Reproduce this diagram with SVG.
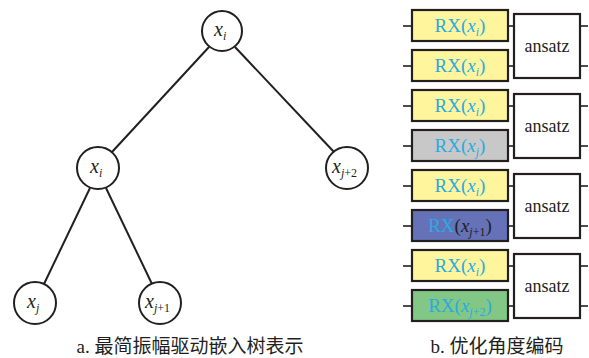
<svg xmlns="http://www.w3.org/2000/svg" width="589" height="358" viewBox="0 0 589 358">
  <style>
    .edge { stroke: #231f20; stroke-width: 2; fill: none; }
    .node { fill: #fff; stroke: #231f20; stroke-width: 2; }
    .var { font-family: "Liberation Serif", "DejaVu Serif", serif; font-style: italic; font-size: 20px; fill: #231f20; }
    .sub { font-size: 12px; }
    .up { font-style: normal; }
    .gate { stroke: #231f20; stroke-width: 2.2; }
    .wire { stroke: #231f20; stroke-width: 1.6; }
    .rx { font-family: "Liberation Serif", "DejaVu Serif", serif; font-size: 19px; fill: #29abe2; }
    .ans { font-family: "Liberation Serif", "DejaVu Serif", serif; font-size: 18px; fill: #231f20; }
    .cap { font-family: "Liberation Serif", "Noto Sans CJK SC", serif; font-size: 19px; fill: #231f20; }
    .yellow { fill: #fff59d; }
    .gray { fill: #c8c8c8; }
    .blue { fill: #6572b8; }
    .green { fill: #82c785; }
  </style>

  <!-- tree edges -->
  <g id="connectors">
    <line class="edge" x1="209" y1="47" x2="112" y2="152"/>
    <line class="edge" x1="235" y1="47" x2="334" y2="152"/>
    <line class="edge" x1="90" y1="188" x2="44" y2="284"/>
    <line class="edge" x1="106" y1="188" x2="152" y2="284"/>
  </g>

  <!-- tree nodes -->
  <g id="root">
    <circle class="node" cx="222" cy="31" r="20"/>
    <text class="var" x="214" y="36">x<tspan class="sub" dy="4">i</tspan></text>
  </g>
  <g id="left">
    <circle class="node" cx="98" cy="168" r="21"/>
    <text class="var" x="90" y="173">x<tspan class="sub" dy="4">i</tspan></text>
  </g>
  <g id="right">
    <circle class="node" cx="347" cy="168" r="21"/>
    <text class="var" x="332" y="173">x<tspan class="sub" dy="4">j<tspan class="up">+2</tspan></tspan></text>
  </g>
  <g id="leaf-j">
    <circle class="node" cx="35" cy="303" r="21"/>
    <text class="var" x="27" y="308">x<tspan class="sub" dy="4">j</tspan></text>
  </g>
  <g id="leaf-j1">
    <circle class="node" cx="160" cy="303" r="21"/>
    <text class="var" x="145" y="308">x<tspan class="sub" dy="4">j<tspan class="up">+1</tspan></tspan></text>
  </g>

  <!-- circuit blocks: shared wires, ansatz box and upper RX gate -->
  <defs>
    <g id="wires">
      <line class="wire" x1="403" y1="26" x2="412" y2="26"/>
      <line class="wire" x1="403" y1="66" x2="412" y2="66"/>
      <line class="wire" x1="508" y1="26" x2="514" y2="26"/>
      <line class="wire" x1="508" y1="66" x2="514" y2="66"/>
      <line class="wire" x1="580" y1="26" x2="588" y2="26"/>
      <line class="wire" x1="580" y1="66" x2="588" y2="66"/>
      <rect class="gate" x="514" y="14" width="66" height="64" fill="#fff"/>
      <text class="ans" x="547" y="52" text-anchor="middle">ansatz</text>
      <rect class="gate yellow" x="412" y="10" width="96" height="31"/>
      <text class="rx" x="460" y="32" text-anchor="middle">RX(<tspan font-style="italic">x</tspan><tspan font-style="italic" font-size="12" dy="4">i</tspan><tspan dy="-4">)</tspan></text>
    </g>
  </defs>

  <g id="block-1">
    <use href="#wires"/>
    <rect class="gate yellow" x="412" y="50" width="96" height="31"/>
    <text class="rx" x="460" y="72" text-anchor="middle">RX(<tspan font-style="italic">x</tspan><tspan font-style="italic" font-size="12" dy="4">i</tspan><tspan dy="-4">)</tspan></text>
  </g>
  <g id="block-2" transform="translate(0,80)">
    <use href="#wires"/>
    <rect class="gate gray" x="412" y="50" width="96" height="31"/>
    <text class="rx" x="460" y="72" text-anchor="middle">RX(<tspan font-style="italic">x</tspan><tspan font-style="italic" font-size="12" dy="4">j</tspan><tspan dy="-4">)</tspan></text>
  </g>
  <g id="block-3" transform="translate(0,160)">
    <use href="#wires"/>
    <rect class="gate blue" x="412" y="50" width="96" height="31"/>
    <text class="rx" x="460" y="72" text-anchor="middle">RX<tspan fill="#231f20">(<tspan font-style="italic">x</tspan><tspan font-style="italic" font-size="12" dy="4">j</tspan><tspan font-size="12">+1</tspan><tspan dy="-4">)</tspan></tspan></text>
  </g>
  <g id="block-4" transform="translate(0,240)">
    <use href="#wires"/>
    <rect class="gate green" x="412" y="50" width="96" height="31"/>
    <text class="rx" x="460" y="72" text-anchor="middle">RX(<tspan font-style="italic">x</tspan><tspan font-style="italic" font-size="12" dy="4">j</tspan><tspan font-size="12">+2</tspan><tspan dy="-4">)</tspan></text>
  </g>

  <!-- captions -->
  <text class="cap" x="190" y="353" text-anchor="middle">a. 最简振幅驱动嵌入树表示</text>
  <text class="cap" x="497" y="353" text-anchor="middle">b. 优化角度编码</text>
</svg>
